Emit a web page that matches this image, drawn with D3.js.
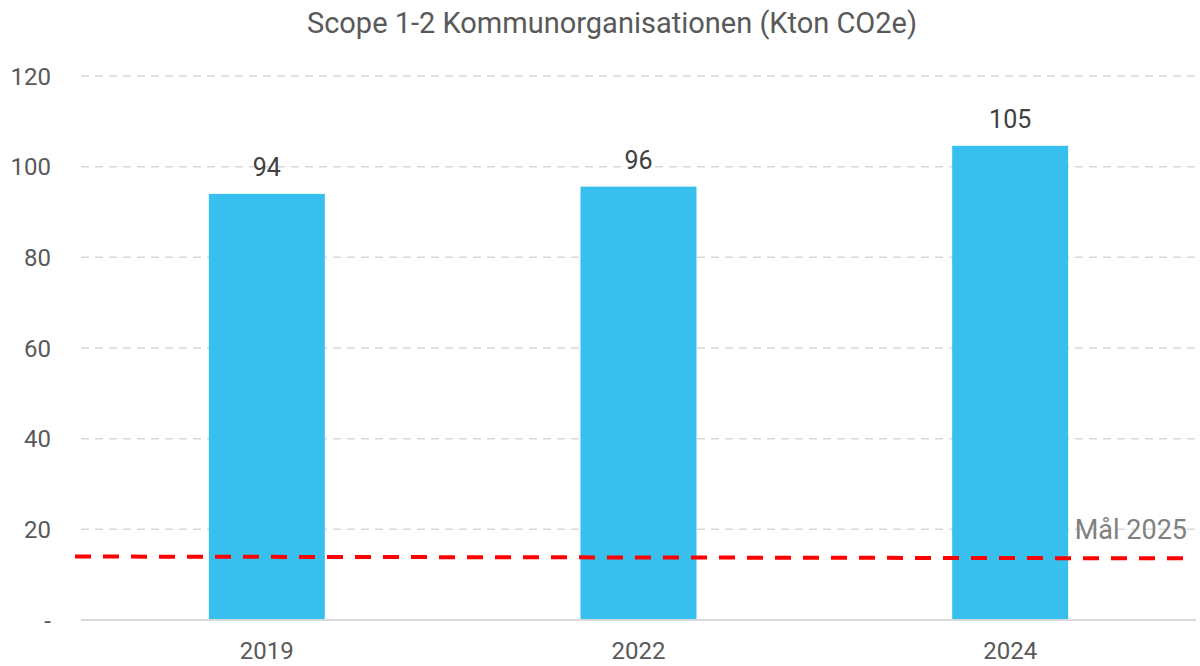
<!DOCTYPE html>
<html>
<head>
<meta charset="utf-8">
<title>Scope 1-2 Kommunorganisationen</title>
<script src="https://d3js.org/d3.v7.min.js"></script>
<style>
  body { margin: 0; background: #fff; }
  svg text { font-family: Roboto, "Liberation Sans", sans-serif; }
</style>
</head>
<body>
<svg id="chart" width="1200" height="666"></svg>
<script>
// data
const years = ['2019', '2022', '2024'];
const emissions = [94.0, 95.6, 104.6];
const valueLabels = ['94', '96', '105'];
const yTicks = [0, 20, 40, 60, 80, 100, 120];
const goalValues = [14.0, 13.6];   // start / end of the Mål 2025 line
const goalLabel = 'Mål 2025';
const title = 'Scope 1-2 Kommunorganisationen (Kton CO2e)';

const svg = d3.select('#chart');
const margin = {left: 81, right: 4, top: 76, bottom: 46};
const W = 1200, H = 666;

const x = d3.scaleBand()
  .domain(years)
  .range([margin.left, W - margin.right])
  .paddingInner(0.688)
  .paddingOuter(0.344);

const y = d3.scaleLinear()
  .domain([0, 120])
  .range([H - margin.bottom, margin.top]);

// title
svg.append('text')
  .attr('x', 612)
  .attr('y', 33)
  .attr('text-anchor', 'middle')
  .attr('fill', '#595959')
  .style('font-size', '29px')
  .text(title);

// gridlines
svg.append('g')
  .selectAll('line')
  .data(yTicks.filter(d => d > 0))
  .enter()
  .append('line')
    .attr('x1', margin.left)
    .attr('x2', W - margin.right)
    .attr('y1', d => y(d))
    .attr('y2', d => y(d))
    .attr('stroke', '#d9d9d9')
    .attr('stroke-width', 1.5)
    .attr('stroke-dasharray', '8,6');

// y axis labels
svg.append('g')
  .selectAll('text')
  .data(yTicks)
  .enter()
  .append('text')
    .attr('x', 51)
    .attr('y', d => y(d) + 8.5)
    .attr('text-anchor', 'end')
    .attr('fill', '#595959')
    .style('font-size', '24px')
    .text(d => d === 0 ? '-' : d);

// bars
svg.append('g')
  .selectAll('rect')
  .data(years)
  .enter()
  .append('rect')
    .attr('x', d => x(d))
    .attr('width', x.bandwidth())
    .attr('y', (d, i) => y(emissions[i]))
    .attr('height', (d, i) => y(0) - y(emissions[i]))
    .attr('fill', '#37c0ed');

// value labels
svg.append('g')
  .selectAll('text')
  .data(years)
  .enter()
  .append('text')
    .attr('x', d => x(d) + x.bandwidth() / 2)
    .attr('y', (d, i) => y(emissions[i]) - 18)
    .attr('text-anchor', 'middle')
    .attr('fill', '#404040')
    .style('font-size', '25px')
    .text((d, i) => valueLabels[i]);

// baseline
svg.append('line')
  .attr('x1', margin.left)
  .attr('x2', W - margin.right)
  .attr('y1', y(0))
  .attr('y2', y(0))
  .attr('stroke', '#d9d9d9')
  .attr('stroke-width', 2);

// x labels
svg.append('g')
  .selectAll('text')
  .data(years)
  .enter()
  .append('text')
    .attr('x', d => x(d) + x.bandwidth() / 2)
    .attr('y', H - 7)
    .attr('text-anchor', 'middle')
    .attr('fill', '#595959')
    .style('font-size', '24px')
    .text(d => d);

// goal line
const gx = [margin.left - 6, W - margin.right - 11];
svg.append('line')
  .attr('x1', gx[0])
  .attr('x2', gx[1])
  .attr('y1', y(goalValues[0]))
  .attr('y2', y(goalValues[1]))
  .attr('stroke', '#ff0000')
  .attr('stroke-width', 4)
  .attr('stroke-dasharray', '16,12');

svg.append('text')
  .attr('x', gx[1] + 2)
  .attr('y', y(goalValues[1]) - 19)
  .attr('text-anchor', 'end')
  .attr('fill', '#808080')
  .style('font-size', '27px')
  .text(goalLabel);
</script>
</body>
</html>
